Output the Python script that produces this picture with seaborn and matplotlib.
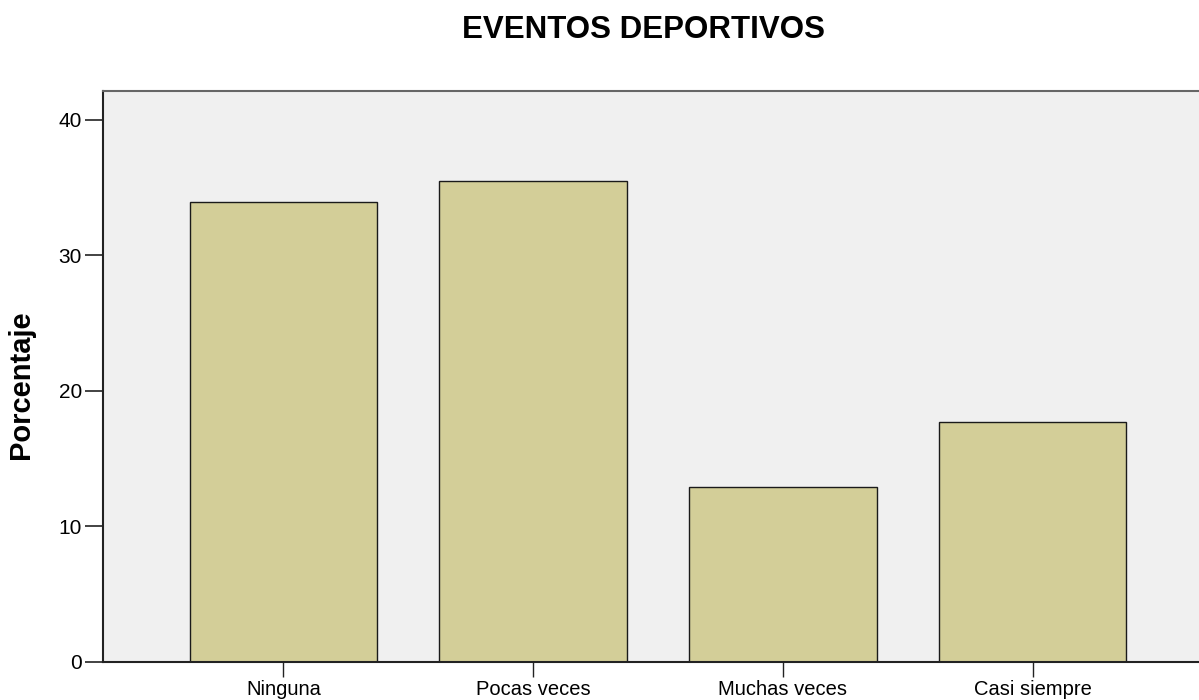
import matplotlib
matplotlib.use("Agg")
import matplotlib.pyplot as plt
import seaborn as sns
import pandas as pd

categorias = ["Ninguna", "Pocas veces", "Muchas veces", "Casi siempre"]
porcentajes = [33.9, 35.5, 12.9, 17.7]
ticks_y = [0, 10, 20, 30, 40]

df = pd.DataFrame({"categoria": categorias, "porcentaje": porcentajes})

sns.set_theme(style="white")
plt.rcParams["font.family"] = ["Liberation Sans", "DejaVu Sans"]
plt.rcParams["text.color"] = "black"
plt.rcParams["axes.labelcolor"] = "black"
plt.rcParams["xtick.color"] = "black"
plt.rcParams["ytick.color"] = "black"

fig = plt.figure(figsize=(11.99, 7.0), dpi=100)
ax = fig.add_axes([0.0857, 0.0547, 0.9143, 0.815])
ax.set_facecolor("#F0F0F0")

sns.barplot(data=df, x="categoria", y="porcentaje", order=categorias,
            color="#D3CE98", saturation=1, width=0.75,
            edgecolor="#1a1a1a", linewidth=1.0, ax=ax)

ax.set_xlim(-0.723, 3.666)
ax.set_ylim(0, 42.09)
ax.set_yticks(ticks_y)
ax.set_yticklabels([str(t) for t in ticks_y])

ax.tick_params(axis="y", direction="out", length=13, width=1.2, color="#222222",
               labelsize=15, pad=2, left=True, labelcolor="black")
ax.tick_params(axis="x", direction="out", length=11, width=1.0, color="#222222",
               labelsize=14.5, pad=2.5, bottom=True, labelcolor="black")

ax.set_xlabel("")
ax.set_ylabel("Porcentaje", fontsize=21, fontweight="bold", color="black")
ax.yaxis.label.set_verticalalignment("center")
ax.yaxis.set_label_coords(-0.0745, 0.485)

for side in ["left", "bottom"]:
    ax.spines[side].set_color("#222222")
    ax.spines[side].set_linewidth(1.5)
ax.spines["top"].set_color("#666666")
ax.spines["top"].set_linewidth(1.5)
ax.spines["right"].set_visible(False)

fig.text(644 / 1199, 1 - 30 / 700, "EVENTOS DEPORTIVOS", ha="center", va="center",
         fontsize=22.5, fontweight="bold", color="black")

fig.savefig("out.png", dpi=100, facecolor="white")
